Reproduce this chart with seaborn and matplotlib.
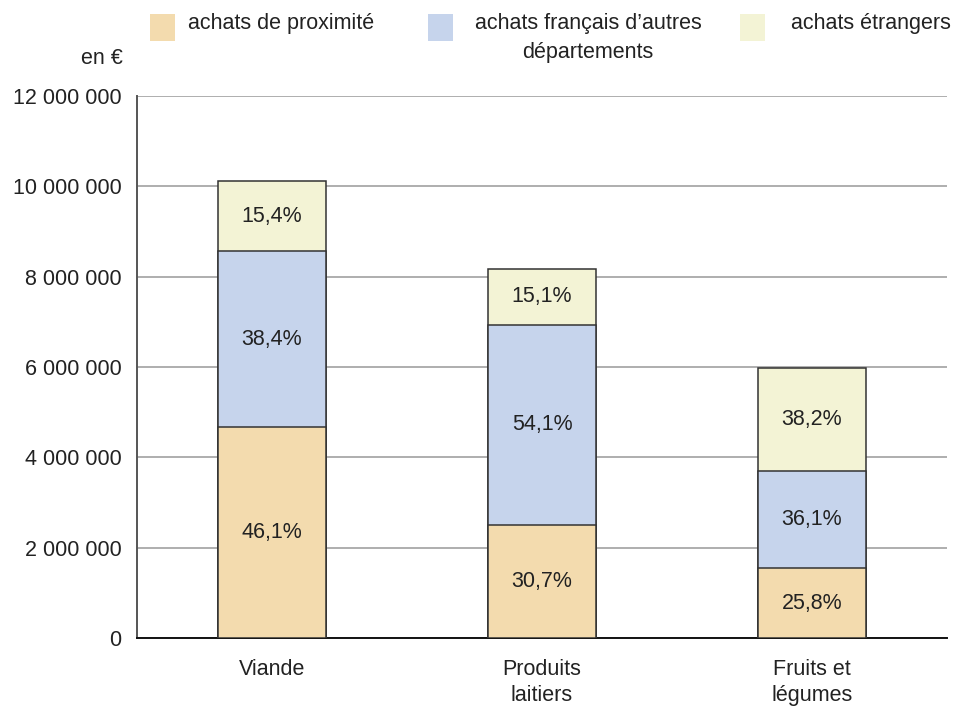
import matplotlib
matplotlib.use("Agg")
import matplotlib.pyplot as plt
import matplotlib.patches as mpatches
import seaborn as sns
import pandas as pd
import numpy as np

categories = ["Viande", "Produits\nlaitiers", "Fruits et\nlégumes"]
series = ["achats de proximité", "achats français d\u2019autres\ndépartements", "achats étrangers"]
proximite = [4670000, 2510000, 1540000]
autres = [3890000, 4430000, 2150000]
etrangers = [1560000, 1240000, 2280000]
pct_proximite = ["46,1%", "30,7%", "25,8%"]
pct_autres = ["38,4%", "54,1%", "36,1%"]
pct_etrangers = ["15,4%", "15,1%", "38,2%"]
yticks = [0, 2000000, 4000000, 6000000, 8000000, 10000000, 12000000]
ytick_labels = ["0", "2 000 000", "4 000 000", "6 000 000", "8 000 000", "10 000 000", "12 000 000"]

colors = ["#F3DBAE", "#C6D4EC", "#F3F3D5"]

sns.set_style("white")
plt.rcParams['font.family'] = ['Liberation Sans', 'DejaVu Sans']

fig = plt.figure(figsize=(9.67, 7.07), dpi=100)
ax = fig.add_axes([137/967, 1-638/707, (947-137)/967, (638-96)/707])

df = pd.DataFrame({"cat": categories, "p": proximite, "a": autres, "e": etrangers})
df["pa"] = df["p"] + df["a"]
df["tot"] = df["pa"] + df["e"]

for col, c in [("tot", colors[2]), ("pa", colors[1]), ("p", colors[0])]:
    sns.barplot(data=df, x="cat", y=col, color=c, width=0.4, edgecolor="#333333",
                linewidth=1.1, saturation=1, ax=ax, zorder=3, order=categories)

# labels
for i in range(3):
    p, a, e = proximite[i], autres[i], etrangers[i]
    kw = dict(ha="center", va="center", fontsize=15.5, color="#222222", zorder=5)
    ax.text(i, p/2, pct_proximite[i], **kw)
    ax.text(i, p + a/2, pct_autres[i], **kw)
    ax.text(i, p + a + e/2, pct_etrangers[i], **kw)

ax.set_xlim(-0.5, 2.5)
ax.set_ylim(0, 12000000)
ax.set_yticks(yticks)
ax.set_yticklabels(ytick_labels, fontsize=15.5, color="#222222")
ax.set_xticks(range(3))
ax.set_xticklabels(categories, fontsize=15.5, color="#222222", linespacing=1.3, va="top")
ax.set_xticks([-0.5, 0.5, 1.5, 2.5], minor=True)
ax.tick_params(axis="x", which="major", length=0, pad=15)
ax.tick_params(axis="x", which="minor", length=5, direction="out", color="#333333", width=1.2)
ax.tick_params(axis="y", length=6, direction="out", color="#333333", width=1.2, pad=5)
ax.set_xlabel("")
ax.set_ylabel("")

ax.yaxis.grid(True, color="#A8A8A8", linewidth=1.3, zorder=0)
ax.set_axisbelow(True)
for s in ["top", "right"]:
    ax.spines[s].set_visible(False)
ax.spines["left"].set_color("#555555")
ax.spines["left"].set_linewidth(1.4)
ax.spines["bottom"].set_color("#111111")
ax.spines["bottom"].set_linewidth(1.4)

# legend at top
fig.text(102/967, 1-58/707, "en \u20ac", fontsize=15.5, ha="center", va="center", color="#222222")
patch_x = [150, 428, 740]
text_x = [281, 588, 871]
for k in range(3):
    fig.patches.append(mpatches.Rectangle((patch_x[k]/967, 1-41/707), 25/967, 27/707,
                                          transform=fig.transFigure, facecolor=colors[k],
                                          edgecolor="none"))
    fig.text(text_x[k]/967, 1-13/707, series[k], fontsize=15.5, ha="center", va="top",
             color="#222222", linespacing=1.5)

fig.savefig("out.png", dpi=100)
